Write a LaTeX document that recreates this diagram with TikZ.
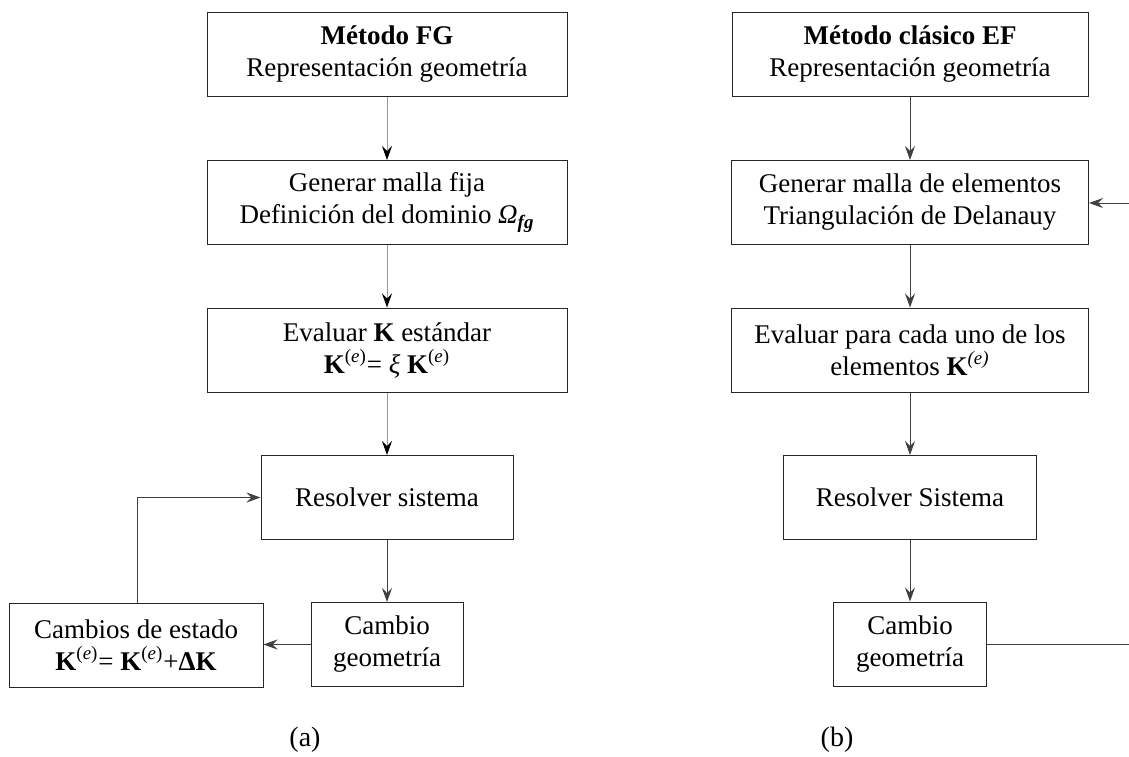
\documentclass[tikz,border=0pt]{standalone}
\usepackage{fontspec}
\setmainfont{Liberation Serif}
\usetikzlibrary{arrows.meta}
\tikzset{
  caja/.style={draw=black!85,line width=0.5pt,minimum height=42pt,inner sep=0pt,align=center,font=\fontsize{13.5}{16}\selectfont},
  flecha/.style={->,line width=0.5pt,draw=black!75},
  claro/.style={-{Stealth[length=7pt,width=5pt,inset=2.5pt,color=black]},line width=0.5pt,draw=black!40},
}
\newcommand{\Ke}{\textbf{K}\textsuperscript{(\textit{e})}}
\begin{document}
\begin{tikzpicture}[x=0.5pt,y=-0.5pt,>={Stealth[length=7pt,width=5pt,inset=2.5pt]}]
\useasboundingbox (0,0) rectangle (1129,756);
% (a) metodo FG
\node[caja,minimum width=180pt] (fg1) at (387,54) {\textbf{Método FG}\\Representación geometría};
\node[caja,minimum width=180pt] (fg2) at (387,202.5) {Generar malla fija\\Definición del dominio \textit{Ω}\textsubscript{\textbf{\textit{fg}}}};
\node[caja,minimum width=180pt] (fg3) at (387,350) {Evaluar \textbf{K} estándar\\\Ke= \textit{ξ} \Ke};
\node[caja,minimum width=126pt] (fg4) at (387,497.5) {Resolver sistema};
\node[caja,minimum width=76pt] (fg5) at (387,644.5) {Cambio\\geometría};
\node[caja,minimum width=127pt] (fg6) at (136,645) {Cambios de estado\\\Ke= \Ke+\textbf{ΔK}};
\draw[claro] (fg1) -- (fg2);
\draw[claro] (fg2) -- (fg3);
\draw[claro] (fg3) -- (fg4);
\draw[flecha] (fg4) -- (fg5);
\draw[flecha] (fg5.west) -- (fg5.west -| fg6.east);
\draw[flecha] (fg6.north -| 137,0) |- (fg4.west);
\node[font=\fontsize{14}{16}\selectfont] (la) at (305,740) {(a)};
% (b) metodo clasico EF
\node[caja,minimum width=178pt] (ef1) at (910,54) {\textbf{Método clásico EF}\\Representación geometría};
\node[caja,minimum width=178.5pt] (ef2) at (910,202.5) {Generar malla de elementos\\Triangulación de Delanauy};
\node[caja,minimum width=178.5pt] (ef3) at (910,350) {Evaluar para cada uno de los\\elementos \textbf{K}\textsuperscript{\textit{(e)}}};
\node[caja,minimum width=126.5pt] (ef4) at (910,497.5) {Resolver Sistema};
\node[caja,minimum width=76.5pt] (ef5) at (910,644) {Cambio\\geometría};
\draw[flecha] (ef1) -- (ef2);
\draw[flecha] (ef2) -- (ef3);
\draw[flecha] (ef3) -- (ef4);
\draw[flecha] (ef4) -- (ef5);
\coordinate (entra) at (1129,203);
\coordinate (sale) at (1129,644);
\draw[flecha] (entra) -- (ef2.east |- entra);
\draw[line width=0.5pt,black!75] (ef5.east) -- (sale);
\node[font=\fontsize{14}{16}\selectfont] (lb) at (837,740) {(b)};
\end{tikzpicture}
\end{document}
